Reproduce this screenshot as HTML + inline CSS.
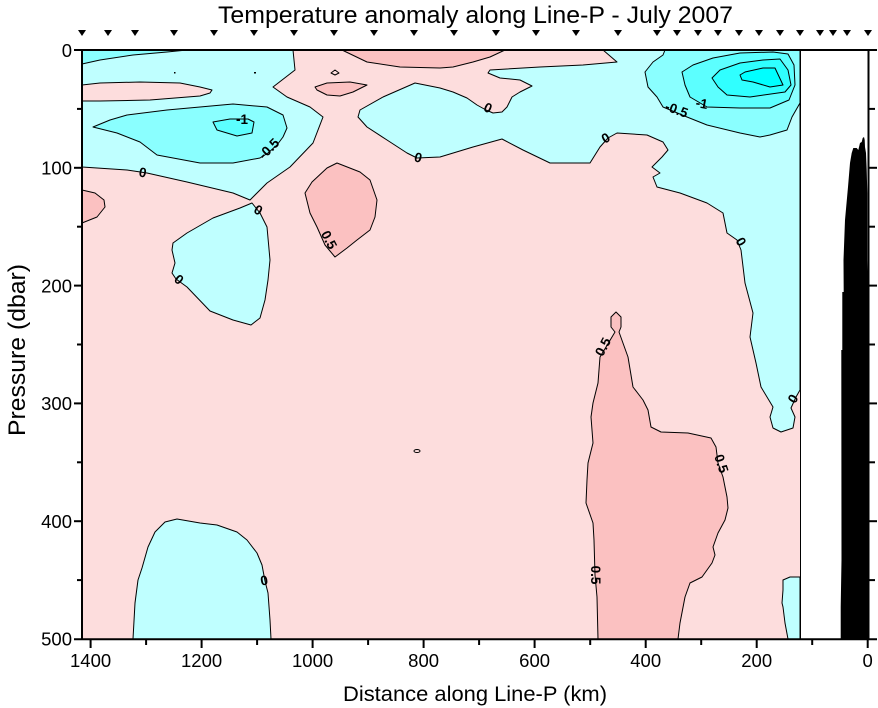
<!DOCTYPE html>
<html><head><meta charset="utf-8"><style>
html,body{margin:0;padding:0;background:#fff;}
svg{display:block;}
text{font-family:"Liberation Sans",Arial,sans-serif;}
.cl{font-size:13.5px;font-weight:bold;fill:#000;}
</style></head><body>
<svg width="878" height="708" viewBox="0 0 878 708" xmlns="http://www.w3.org/2000/svg">
<rect x="0" y="0" width="878" height="708" fill="#fff"/>
<text x="218" y="23" font-size="24" textLength="515" lengthAdjust="spacingAndGlyphs">Temperature anomaly along Line-P - July 2007</text>
<g fill="#000">
<polygon points="78,30 86,30 82,36"/><polygon points="104,30 112,30 108,36"/><polygon points="131,30 139,30 135,36"/>
<polygon points="170,30 178,30 174,36"/><polygon points="210,30 218,30 214,36"/><polygon points="250,30 258,30 254,36"/>
<polygon points="290,30 298,30 294,36"/><polygon points="330,30 338,30 334,36"/><polygon points="370,30 378,30 374,36"/>
<polygon points="410,30 418,30 414,36"/><polygon points="450,30 458,30 454,36"/><polygon points="492,30 500,30 496,36"/>
<polygon points="532,30 540,30 536,36"/><polygon points="572,30 580,30 576,36"/><polygon points="614,30 622,30 618,36"/>
<polygon points="653,30 661,30 657,36"/><polygon points="673,30 681,30 677,36"/><polygon points="694,30 702,30 698,36"/>
<polygon points="714,30 722,30 718,36"/><polygon points="735,30 743,30 739,36"/><polygon points="755,30 763,30 759,36"/>
<polygon points="776,30 784,30 780,36"/><polygon points="796,30 804,30 800,36"/><polygon points="816,30 824,30 820,36"/>
<polygon points="829,30 837,30 833,36"/><polygon points="843,30 851,30 847,36"/><polygon points="864,30 872,30 868,36"/>
</g>

<rect x="82" y="50" width="718" height="589" fill="#FDDDDD"/>
<g stroke="#000" stroke-width="1" stroke-linejoin="round">
<polygon fill="#BFFFFF" points="82,50 293,50 295,70 273,87 287,97 310,107 323,117 313,143 290,167 267,183 253,197 250,200 233,193 187,182 147,173 127,170 82,167"/>
<polygon fill="#8AFFFF" points="82,50 187,50 167,52 133,55 100,60 82,64"/>
<polygon fill="#FDDDDD" points="82,85 100,83 140,82 180,83 200,87 212,90 210,93 200,96 150,100 100,101 82,101"/>
<polygon fill="#8AFFFF" points="93,127 110,120 127,115 167,110 200,107 233,104 267,107 283,115 287,128 283,137 277,145 268,153 260,158 233,163 200,163 157,155 140,142 117,133"/>
<polygon fill="#5CFFFF" points="213,122 217,130 237,136 252,133 254,122 248,119 230,119"/>
<polygon fill="#BFFFFF" points="252,203 240,208 213,218 187,233 173,243 172,250 175,263 172,273 176,279 187,287 210,311 233,320 251,325 260,318 265,300 268,280 270,260 267,227 260,213"/>
<polygon fill="#FBC1C1" points="82,190 95,193 104,200 105,207 97,217 82,223"/>
<polygon fill="#FBC1C1" points="315,87 327,83 350,82 367,85 353,92 340,96 327,95 317,90"/>
<polygon fill="#FDDDDD" points="331,73 335,70 339,73 335,75"/>
<polygon fill="#FBC1C1" points="337,163 360,172 370,180 377,200 375,217 370,230 357,240 347,248 335,257 325,245 317,227 310,213 305,193 312,182 327,168"/>
<polygon fill="#FBC1C1" points="342,50 505,50 490,57 473,62 453,67 440,68 400,67 367,62"/>
<polygon fill="#BFFFFF" points="603,50 800,50 800,390 796,397 791,408 795,417 793,428 781,432 773,428 770,417 773,407 761,387 756,363 750,337 753,313 745,283 741,250 737,240 727,233 723,213 707,203 680,193 657,187 653,177 660,173 652,167 662,157 668,150 663,142 647,135 617,133 608,138 600,147 590,163 550,163 523,150 502,139 473,147 440,157 417,158 407,153 387,140 367,127 358,117 360,110 383,97 415,83 440,88 453,92 467,98 477,105 486,110 493,113 502,112 507,107 512,97 520,92 532,86 520,80 500,78 488,73 490,70 540,67 583,65 617,62 610,56"/>
<polygon fill="#8AFFFF" points="665,50 800,50 800,103 792,117 787,130 770,135 760,137 740,133 707,125 687,117 675,112 663,107 657,97 648,87 645,72 653,62 663,55"/>
<polygon fill="#5CFFFF" points="707,107 690,97 685,85 682,72 693,65 713,58 740,53 773,52 788,54 794,65 795,85 789,100 770,108 740,108"/>
<polygon fill="#30FFFF" points="712,78 720,70 740,63 763,60 780,59 788,70 791,85 785,92 750,97 727,95 718,87"/>
<polygon fill="#00FFFF" points="740,75 745,72 763,68 775,68 783,85 770,87 753,82 742,80"/>
<polygon fill="#BFFFFF" points="133,639 135,603 138,580 142,568 148,547 155,532 165,522 177,519 200,523 217,525 237,532 247,540 257,553 262,565 265,581 268,593 270,620 271,639"/>
<polygon fill="#BFFFFF" points="783,590 783,580 790,577 800,577 800,639 788,639 785,623 783,607 782,603"/>
<polygon fill="#FBC1C1" points="598,639 597,597 595,575 594,540 593,523 586,503 587,480 588,463 593,443 591,417 593,403 598,383 600,357 606,347 615,332 611,327 611,317 616,312 621,317 621,327 619,332 628,357 633,387 643,400 648,410 651,427 661,432 688,433 711,438 716,447 718,463 723,477 727,497 728,508 725,520 718,533 713,547 715,555 712,563 702,577 690,583 685,597 680,623 678,639"/>
<ellipse cx="417" cy="451" rx="3" ry="1.5" fill="#FDDDDD"/>
</g>
<rect x="174" y="72" width="1.5" height="1.5" fill="#000"/>
<rect x="254" y="72" width="2" height="1.5" fill="#000"/>

<g class="cl">
<text class="cl" x="242" y="124" text-anchor="middle">-1</text>
<text class="cl" transform="translate(272,152) rotate(-45)" text-anchor="middle">-0.5</text>
<text class="cl" transform="translate(142,177) rotate(10)" text-anchor="middle">0</text>
<text class="cl" transform="translate(256,214) rotate(30)" text-anchor="middle">0</text>
<text class="cl" transform="translate(325,242) rotate(62)" text-anchor="middle">0.5</text>
<text class="cl" transform="translate(176,283) rotate(40)" text-anchor="middle">0</text>
<text class="cl" transform="translate(417,162) rotate(15)" text-anchor="middle">0</text>
<text class="cl" transform="translate(486,112) rotate(25)" text-anchor="middle">0</text>
<text class="cl" transform="translate(608,142) rotate(-30)" text-anchor="middle">0</text>
<text class="cl" transform="translate(675,114) rotate(20)" text-anchor="middle">-0.5</text>
<text class="cl" transform="translate(701,108) rotate(10)" text-anchor="middle">-1</text>
<text class="cl" transform="translate(737,244) rotate(60)" text-anchor="middle">0</text>
<text class="cl" transform="translate(607,349) rotate(-62)" text-anchor="middle">0.5</text>
<text class="cl" transform="translate(797,401) rotate(-60)" text-anchor="middle">0</text>
<text class="cl" transform="translate(717,465) rotate(72)" text-anchor="middle">0.5</text>
<text class="cl" transform="translate(591,575) rotate(90)" text-anchor="middle">0.5</text>
<text class="cl" transform="translate(265,585) rotate(-10)" text-anchor="middle">0</text>
</g>

<line x1="800.5" y1="50" x2="800.5" y2="639" stroke="#000" stroke-width="1"/>
<polygon fill="#000" points="840.7,639 840.7,607 841.5,560 841.3,350 842.3,350 842.3,292 843.7,292 843.5,260 845,220 848,187 850,163 851.7,153 853.3,148 856.7,148 858.3,150 860,143 861.7,142 862.7,138 864,137 864.7,140 865,147 866,153 866.7,170 867.3,193 867.3,260 868,300 868,639"/>

<g stroke="#000" stroke-width="2" fill="none">
<line x1="82" y1="49" x2="82" y2="640"/>
<line x1="868.5" y1="49" x2="868.5" y2="640"/>
<line x1="81" y1="50" x2="877" y2="50"/>
<line x1="74" y1="639.3" x2="877" y2="639.3"/>
<line x1="74" y1="167.8" x2="82" y2="167.8"/><line x1="74" y1="285.6" x2="82" y2="285.6"/>
<line x1="74" y1="403.4" x2="82" y2="403.4"/><line x1="74" y1="521.2" x2="82" y2="521.2"/>
<line x1="74" y1="50" x2="82" y2="50"/>
<line x1="77" y1="108.9" x2="82" y2="108.9"/><line x1="77" y1="226.7" x2="82" y2="226.7"/>
<line x1="77" y1="344.5" x2="82" y2="344.5"/><line x1="77" y1="462.3" x2="82" y2="462.3"/>
<line x1="77" y1="580.1" x2="82" y2="580.1"/>
<line x1="868" y1="167.8" x2="877" y2="167.8"/><line x1="868" y1="285.6" x2="877" y2="285.6"/>
<line x1="868" y1="403.4" x2="877" y2="403.4"/><line x1="868" y1="521.2" x2="877" y2="521.2"/>
<line x1="868" y1="108.9" x2="875" y2="108.9"/><line x1="868" y1="226.7" x2="875" y2="226.7"/>
<line x1="868" y1="344.5" x2="875" y2="344.5"/><line x1="868" y1="462.3" x2="875" y2="462.3"/>
<line x1="868" y1="580.1" x2="875" y2="580.1"/>
<line x1="90.6" y1="639" x2="90.6" y2="648"/><line x1="201.6" y1="639" x2="201.6" y2="648"/>
<line x1="312.6" y1="639" x2="312.6" y2="648"/><line x1="423.6" y1="639" x2="423.6" y2="648"/>
<line x1="534.6" y1="639" x2="534.6" y2="648"/><line x1="645.7" y1="639" x2="645.7" y2="648"/>
<line x1="756.7" y1="639" x2="756.7" y2="648"/><line x1="867.7" y1="639" x2="867.7" y2="648"/>
<line x1="146.1" y1="639" x2="146.1" y2="645"/><line x1="257.1" y1="639" x2="257.1" y2="645"/>
<line x1="368.1" y1="639" x2="368.1" y2="645"/><line x1="479.1" y1="639" x2="479.1" y2="645"/>
<line x1="590.2" y1="639" x2="590.2" y2="645"/><line x1="701.2" y1="639" x2="701.2" y2="645"/>
<line x1="812.2" y1="639" x2="812.2" y2="645"/>
</g>

<g font-size="18.5" text-anchor="end">
<text x="72" y="57">0</text>
<text x="72" y="174.5">100</text>
<text x="72" y="292.3">200</text>
<text x="72" y="410.1">300</text>
<text x="72" y="527.9">400</text>
<text x="72" y="645.7">500</text>
</g>
<g font-size="18.5" text-anchor="middle">
<text x="90.6" y="667">1400</text>
<text x="201.6" y="667">1200</text>
<text x="312.6" y="667">1000</text>
<text x="423.6" y="667">800</text>
<text x="534.6" y="667">600</text>
<text x="645.7" y="667">400</text>
<text x="756.7" y="667">200</text>
<text x="867.7" y="667">0</text>
</g>
<text x="343" y="701" font-size="21.5" textLength="264" lengthAdjust="spacingAndGlyphs">Distance along Line-P (km)</text>
<text transform="translate(25,350) rotate(-90)" font-size="24" text-anchor="middle" textLength="172" lengthAdjust="spacingAndGlyphs">Pressure (dbar)</text>
</svg>
</body></html>
